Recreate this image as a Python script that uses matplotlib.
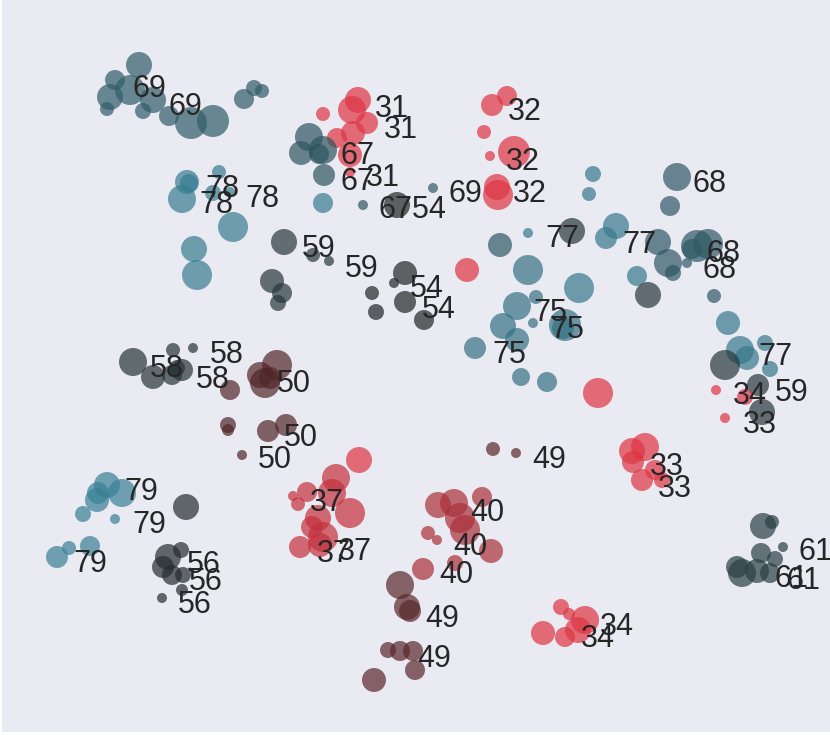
import numpy as np
import matplotlib.pyplot as plt
import matplotlib.colors as mcolors
import seaborn as sns

# bubble positions (pixel-like embedding coords), radius and cluster id
px = [139, 115, 110, 130, 153, 107, 143, 169, 191, 213, 244, 254, 262,
      358, 352, 323, 367, 353, 337, 350, 350,
      309, 301, 323, 319, 324, 363, 433,
      323, 397,
      507, 492, 484, 490, 514, 497, 498,
      593, 589, 677, 670, 572, 528, 616, 606, 500,
      658, 668, 673, 697, 708, 692, 687, 637, 648, 714, 579,
      467, 528, 517, 536, 503, 517, 533, 565, 563, 475, 521, 547, 598,
      728, 740, 765, 747, 725, 770, 716, 758, 745, 762, 725,
      493, 516,
      632, 645, 633, 642, 655, 662,
      438, 454, 482, 460, 465, 428, 437, 491, 455, 423,
      359, 336, 332, 350, 307, 293, 298, 318, 312, 323, 300, 320,
      400, 407, 410, 388, 400, 413, 415, 374,
      561, 569, 585, 578, 565, 543,
      763, 772, 783, 761, 775, 737, 742, 757, 770,
      186, 181, 168, 163, 172, 183, 182, 162,
      107, 98, 97, 122, 83, 115, 90, 69, 57,
      194, 197, 284, 272, 282, 278,
      133, 173, 193, 153, 172, 182, 177,
      277, 260, 265, 270, 230, 228, 228, 268, 286, 242,
      313, 329,
      405, 394, 372, 376, 405, 424,
      187, 189, 182, 219, 213, 230, 233]
py = [65, 80, 97, 90, 100, 109, 111, 116, 123, 121, 99, 88, 91,
      100, 110, 114, 123, 133, 138, 155, 172,
      137, 153, 150, 154, 175, 205, 188,
      203, 205,
      96, 105, 132, 156, 152, 187, 195,
      174, 194, 177, 206, 231, 233, 226, 238, 245,
      242, 263, 273, 246, 244, 249, 263, 276, 295, 296, 288,
      270, 270, 306, 297, 326, 340, 323, 325, 328, 348, 377, 382, 393,
      323, 350, 343, 358, 365, 369, 390, 385, 397, 412, 418,
      449, 453,
      451, 447, 462, 480, 470, 480,
      505, 503, 497, 518, 530, 533, 540, 551, 563, 569,
      460, 478, 493, 513, 492, 496, 504, 518, 527, 537, 547, 545,
      585, 607, 611, 650, 651, 651, 670, 680,
      607, 614, 620, 630, 637, 633,
      526, 522, 547, 553, 559, 567, 573, 571, 573,
      507, 550, 557, 567, 575, 575, 590, 598,
      485, 493, 500, 493, 514, 519, 546, 548, 557,
      249, 275, 242, 281, 293, 303,
      362, 350, 348, 377, 375, 370, 368,
      365, 375, 383, 378, 390, 425, 430, 431, 425, 455,
      255, 261,
      273, 283, 293, 312, 302, 320,
      182, 183, 199, 172, 193, 192, 227]
pr = [13, 10, 13, 15, 13, 7, 8, 10, 16, 16, 10, 8, 7,
      13, 14, 7, 11, 12, 10, 12, 5,
      14, 12, 14, 10, 11, 5, 5,
      10, 13,
      10, 11, 7, 5, 16, 13, 15,
      8, 7, 14, 10, 13, 5, 13, 11, 12,
      13, 14, 8, 16, 15, 10, 5, 10, 13, 7, 15,
      12, 15, 14, 7, 13, 12, 5, 16, 11, 11, 9, 10, 15,
      12, 14, 8, 12, 15, 8, 5, 11, 8, 13, 5,
      7, 5,
      13, 14, 11, 11, 10, 8,
      13, 14, 10, 15, 15, 7, 5, 12, 8, 11,
      13, 14, 14, 15, 10, 5, 7, 13, 11, 15, 11, 12,
      14, 13, 11, 8, 10, 10, 10, 12,
      8, 6, 14, 13, 10, 12,
      13, 7, 5, 10, 8, 11, 14, 12, 10,
      13, 8, 13, 11, 10, 8, 6, 5,
      13, 11, 12, 14, 8, 5, 10, 7, 11,
      13, 15, 13, 12, 10, 8,
      14, 7, 5, 12, 10, 11, 8,
      15, 13, 15, 11, 10, 8, 6, 11, 11, 5,
      7, 5,
      12, 5, 7, 8, 11, 10,
      12, 9, 14, 7, 8, 5, 15]
grp = [69] * 13 + [31] * 8 + [67] * 5 + [67, 69] + [78, 54] + [32] * 7 + \
      [77, 77, 68, 68, 59, 77, 77, 77, 68] + \
      [68, 68, 68, 68, 68, 68, 68, 77, 59, 68, 77] + \
      [33] + [75] * 11 + [33] + \
      [77, 77, 77, 77, 59, 77, 34, 59, 34, 59, 33] + [49, 49] + [33] * 6 + \
      [40] * 10 + [34] + [37] * 11 + [49] * 8 + [34] * 6 + [61] * 9 + \
      [56] * 8 + [79] * 9 + [78, 78, 59, 59, 59, 59] + [58] * 7 + \
      [50] * 10 + [59, 59] + [54] * 6 + [78] * 7

# cluster labels (left edge, baseline, text)
lx = [132, 168, 375, 384, 366, 340, 340, 379, 448, 508, 506, 513, 693,
      545, 622, 706, 703, 533, 550, 492, 758, 775, 733, 743, 532,
      650, 658, 470, 453, 439, 310, 317, 338, 425, 417, 600, 581,
      798, 774, 787, 187, 189, 178, 124, 132, 73, 150, 210, 196,
      277, 284, 258, 302, 345, 410, 422, 205, 199, 245]
ly = [97, 115, 117, 138, 186, 164, 190, 218, 202, 120, 170, 202, 192,
      247, 253, 262, 278, 321, 338, 363, 365, 401, 404, 433, 468,
      475, 497, 521, 555, 583, 511, 562, 560, 627, 667, 635, 647,
      560, 587, 589, 573, 590, 613, 500, 533, 572, 377, 363, 388,
      392, 446, 468, 257, 277, 297, 318, 197, 213, 207]
lt = ['69', '69', '31', '31', '31', '67', '67', '6754', '69', '32', '32', '32', '68',
      '77', '77', '68', '68', '75', '75', '75', '77', '59', '34', '33', '49',
      '33', '33', '40', '40', '40', '37', '37', '37', '49', '49', '34', '34',
      '61', '61', '61', '56', '56', '56', '79', '79', '79', '58', '58', '58',
      '50', '50', '50', '59', '59', '54', '54', '78', '78', '78']

W, H = 830, 735
fig = plt.figure(figsize=(W / 100, H / 100), dpi=100)
ax = fig.add_axes([2 / W, 3 / H, 828 / W, 732 / H])
ax.set_facecolor('#EAEAF2')
for s in ax.spines.values():
    s.set_visible(False)
ax.set_xticks([])
ax.set_yticks([])

cmap = sns.diverging_palette(10, 220, s=80, l=50, center='dark', as_cmap=True)
norm = mcolors.TwoSlopeNorm(vmin=34, vcenter=54, vmax=79)
sizes = (2 * np.array(pr) * 0.72) ** 2
cols = cmap(np.clip(norm(np.array(grp, dtype=float)), 0, 1))
ax.scatter(px, py, s=sizes, c=cols, alpha=0.7, linewidths=0)

for x, y, t in zip(lx, ly, lt):
    ax.text(x, y, t, ha='left', va='baseline', fontsize=22,
            family='Liberation Sans', color='#262626')

ax.set_xlim(2, 830)
ax.set_ylim(732, 0)
fig.savefig('out.png', dpi=100)
